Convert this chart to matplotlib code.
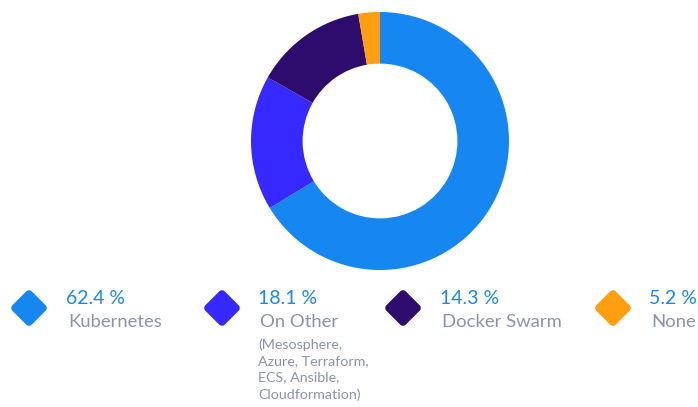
import matplotlib.pyplot as plt
from matplotlib.markers import MarkerStyle

plt.rcParams['font.family'] = ['Lato', 'DejaVu Sans']

# slice sizes as drawn in the ring, percent labels as printed below it
names = ['Kubernetes', 'On Other', 'Docker Swarm', 'None']
shares = [66.3, 16.9, 14.1, 2.7]
pct_labels = ['62.4 %', '18.1 %', '14.3 %', '5.2 %']
notes = ['', '(Mesosphere,\nAzure, Terraform,\nECS, Ansible,\nCloudformation)', '', '']
colors = ['#1687f0', '#3629ff', '#2e0c6e', '#ff9f0f']

W, H = 698, 407
fig = plt.figure(figsize=(W / 100, H / 100), dpi=100)

cx, cy, r = 380, 141, 129
ax = fig.add_axes([(cx - r) / W, 1 - (cy + r) / H, 2 * r / W, 2 * r / H])
ax.pie(shares, colors=colors, startangle=90, counterclock=False,
       wedgeprops=dict(width=0.4, linewidth=0))
ax.set_xlim(-1, 1)
ax.set_ylim(-1, 1)
ax.set_aspect('equal')
ax.axis('off')

leg = fig.add_axes([0, 0, 1, 1])
leg.set_xlim(0, W)
leg.set_ylim(H, 0)
leg.axis('off')

mark_x = [29, 222, 403, 613]
text_x = [66, 258, 440, 649]
dia = MarkerStyle('D', joinstyle='round')
for i, name in enumerate(names):
    leg.plot(mark_x[i], 308, marker=dia, markersize=14.5, color=colors[i],
             markeredgecolor=colors[i], markeredgewidth=5.5)
    leg.text(text_x[i], 299, pct_labels[i], color='#1a87f2', fontsize=14,
             va='center', ha='left')
    leg.text(text_x[i] + 2, 322, name, color='#8a93aa', fontsize=13.3,
             va='center', ha='left')
    if notes[i]:
        leg.text(text_x[i], 338, notes[i], color='#8a93aa', fontsize=10.3,
                 va='top', ha='left', linespacing=1.45)

fig.savefig('out.png', dpi=100)
